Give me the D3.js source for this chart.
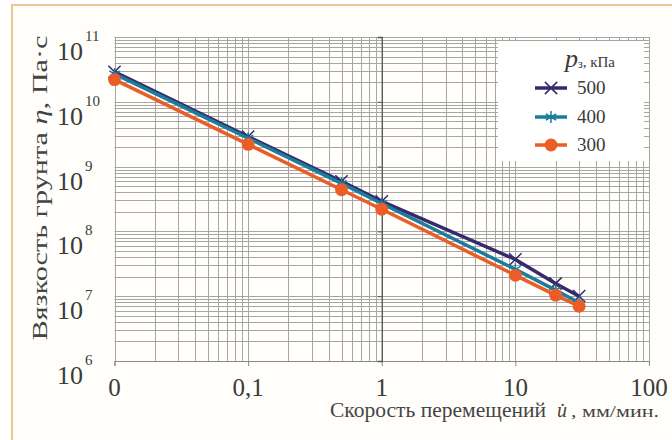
<!DOCTYPE html>
<html>
<head>
<meta charset="utf-8">
<title>Вязкость грунта</title>
<script src="https://cdn.jsdelivr.net/npm/d3@7"></script>
<style>
  html, body { margin: 0; padding: 0; background: #ffffff; }
  svg { display: block; }
  text { font-family: "Liberation Serif", "DejaVu Serif", serif; }
</style>
</head>
<body>
<div id="chart"></div>
<script>
// скорости перемещений, мм/мин ("0" на оси = 0,01)
var speeds = [0.01, 0.1, 0.5, 1, 10, 20, 30];
// вязкость, Па·с, для трёх давлений
var eta500 = [2.9e10, 2.9e9, 5.9e8, 2.9e8, 3.7e7, 1.57e7, 1.0e7];
var eta400 = [2.7e10, 2.74e9, 5.5e8, 2.7e8, 2.6e7, 1.24e7, 7.9e6];
var eta300 = [2.2e10, 2.2e9, 4.4e8, 2.2e8, 2.1e7, 1.04e7, 7.0e6];
var pressures = ["500", "400", "300"];
var xTickLabels = ["0", "0,1", "1", "10", "100"];
var xTicks = [0.01, 0.1, 1, 10, 100];
var yTicks = [1e6, 1e7, 1e8, 1e9, 1e10, 1e11];
var yExponents = ["6", "7", "8", "9", "10", "11"];

var W = 672, H = 440;
var textColor = "#3a3a3a";

var series = [
  { name: pressures[0], values: eta500, color: "#36296c", symbol: d3.symbolTimes },
  { name: pressures[1], values: eta400, color: "#1b7d9b", symbol: d3.symbolAsterisk },
  { name: pressures[2], values: eta300, color: "#ea5d27", symbol: d3.symbolCircle }
];

var svg = d3.select("#chart").append("svg")
  .attr("width", W)
  .attr("height", H);

// фон и рамка
svg.append("rect").attr("width", W).attr("height", H).attr("fill", "#ffffff");
svg.append("rect")
  .attr("x", 12).attr("y", 5)
  .attr("width", W).attr("height", H)
  .attr("fill", "#fffefb")
  .attr("stroke", "#eac88f")
  .attr("stroke-width", 2);

var x = d3.scaleLog().domain([0.01, 100]).range([114.5, 649]);
var y = d3.scaleLog().domain([1e6, 1e11]).range([361, 37]);

// сетка по всем 1..9 каждой декады
var xGrid = [], yGrid = [];
d3.range(-2, 2).forEach(function(e) {
  d3.range(1, 10).forEach(function(m) { xGrid.push(m * Math.pow(10, e)); });
});
xGrid.push(100);
d3.range(6, 11).forEach(function(e) {
  d3.range(1, 10).forEach(function(m) { yGrid.push(m * Math.pow(10, e)); });
});
yGrid.push(1e11);

var grid = svg.append("g").attr("stroke", "#a6a6a6").attr("stroke-width", 1);
grid.selectAll(".vx").data(xGrid).join("line")
  .attr("x1", d => Math.round(x(d)) + 0.5).attr("x2", d => Math.round(x(d)) + 0.5)
  .attr("y1", y(1e11)).attr("y2", y(1e6));
grid.selectAll(".hy").data(yGrid).join("line")
  .attr("x1", x(0.01)).attr("x2", x(100))
  .attr("y1", d => Math.round(y(d)) + 0.5).attr("y2", d => Math.round(y(d)) + 0.5);

// ось X внизу с делениями
var xAxis = svg.append("g")
  .attr("transform", `translate(0,${y(1e6)})`)
  .call(d3.axisBottom(x).tickValues(xTicks).tickSize(5).tickFormat(""));
xAxis.select(".domain").attr("stroke", "#8a8a8a");
xAxis.selectAll(".tick line").attr("stroke", "#8a8a8a");

// вертикальная ось проходит через 1
var yAxis = svg.append("g")
  .attr("transform", `translate(${x(1)},0)`)
  .call(d3.axisLeft(y).tickValues(yTicks).tickSize(4).tickFormat(""));
yAxis.select(".domain").attr("stroke", "#555").attr("stroke-width", 1.3);
yAxis.selectAll(".tick line").attr("stroke", "#555");

// подписи оси X
svg.append("g").selectAll("text").data(xTicks).join("text")
  .attr("x", d => x(d))
  .attr("y", 396)
  .attr("text-anchor", "middle")
  .attr("font-size", 25)
  .attr("fill", textColor)
  .text((d, i) => xTickLabels[i]);

// подписи оси Y: 10 со степенью
var yl = svg.append("g").selectAll("g").data(yTicks).join("g");
yl.append("text")
  .attr("x", 57).attr("y", d => y(d) + 23)
  .attr("font-size", 26)
  .attr("fill", textColor)
  .text("10");
yl.append("text")
  .attr("x", 85).attr("y", d => y(d) + 4)
  .attr("font-size", 15)
  .attr("fill", textColor)
  .text((d, i) => yExponents[i]);

// названия осей
var xt = svg.append("text")
  .attr("x", 330).attr("y", 417)
  .attr("fill", "#444")
  .attr("font-size", 20);
xt.append("tspan").attr("textLength", 216).attr("lengthAdjust", "spacingAndGlyphs")
  .text("Скорость перемещений");
xt.append("tspan").attr("x", 557).attr("font-style", "italic").text("u\u0307");
xt.append("tspan").attr("x", 571).attr("font-size", 16)
  .attr("textLength", 88).attr("lengthAdjust", "spacingAndGlyphs")
  .text(", мм/мин.");

var yt = svg.append("text")
  .attr("transform", "translate(47,188) rotate(-90)")
  .attr("text-anchor", "middle")
  .attr("fill", "#444")
  .attr("font-size", 22)
  .attr("textLength", 305)
  .attr("lengthAdjust", "spacingAndGlyphs");
yt.append("tspan").text("Вязкость грунта  ");
yt.append("tspan").attr("font-style", "italic").text("η");
yt.append("tspan").text(",  Па·с");

// линии
var line = d3.line()
  .x((d, i) => x(speeds[i]))
  .y(d => y(d));

var plot = svg.append("g");
series.forEach(function(s) {
  var g = plot.append("g");
  g.append("path")
    .datum(s.values)
    .attr("fill", "none")
    .attr("stroke", s.color)
    .attr("stroke-width", 3.5)
    .attr("stroke-linejoin", "round")
    .attr("d", line);
  var isCircle = s.symbol === d3.symbolCircle;
  g.selectAll("path.m").data(s.values).join("path")
    .attr("class", "m")
    .attr("transform", (d, i) => `translate(${x(speeds[i])},${y(d)})`)
    .attr("d", d3.symbol(s.symbol, isCircle ? 130 : 100))
    .attr("fill", isCircle ? s.color : "none")
    .attr("stroke", s.color)
    .attr("stroke-width", isCircle ? 0 : 1.5);
});

// легенда
var leg = svg.append("g");
leg.append("rect")
  .attr("x", 498).attr("y", 41)
  .attr("width", 146).attr("height", 120)
  .attr("fill", "#ffffff");
var lt = leg.append("text")
  .attr("x", 565).attr("y", 67)
  .attr("fill", textColor);
lt.append("tspan").attr("font-style", "italic").attr("font-size", 26).text("p");
lt.append("tspan").attr("font-size", 12).attr("dy", 1).text("з");
lt.append("tspan").attr("font-size", 15).attr("dy", -1).text(", кПа");

var legY = [88, 117, 145];
series.forEach(function(s, i) {
  var isCircle = s.symbol === d3.symbolCircle;
  leg.append("line")
    .attr("x1", 535).attr("x2", 567)
    .attr("y1", legY[i]).attr("y2", legY[i])
    .attr("stroke", s.color).attr("stroke-width", 3.5);
  leg.append("path")
    .attr("transform", `translate(551,${legY[i]})`)
    .attr("d", d3.symbol(s.symbol, isCircle ? 130 : 100))
    .attr("fill", isCircle ? s.color : "none")
    .attr("stroke", s.color)
    .attr("stroke-width", isCircle ? 0 : 1.5);
  leg.append("text")
    .attr("x", 577).attr("y", legY[i] + 6)
    .attr("font-size", 19)
    .attr("fill", textColor)
    .text(s.name);
});
</script>
</body>
</html>
